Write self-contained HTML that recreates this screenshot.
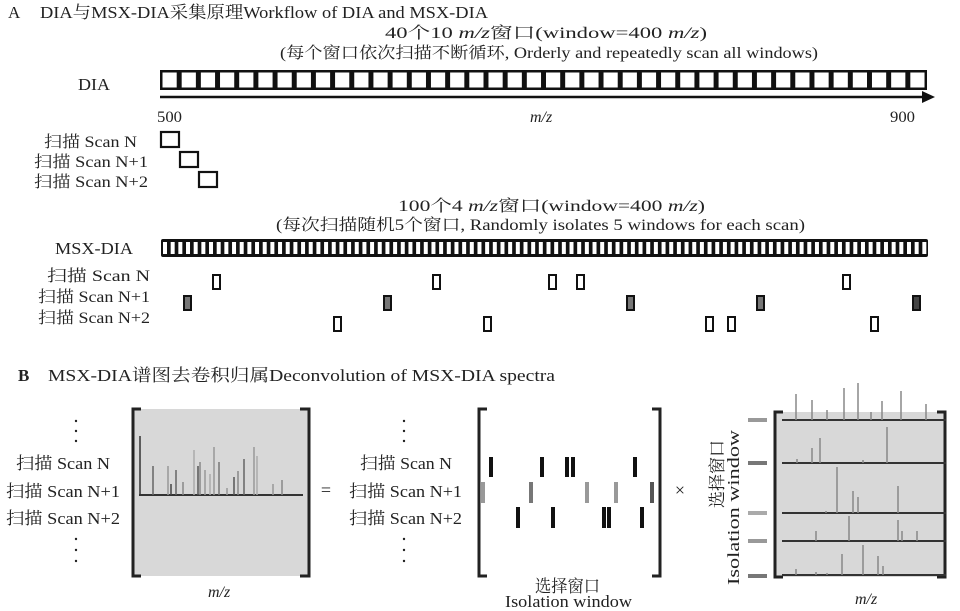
<!DOCTYPE html>
<html><head><meta charset="utf-8"><style>
body{margin:0;background:#fff}
svg{display:block}
text{font-family:"Liberation Serif","Noto Serif CJK SC",serif;fill:#222}
</style></head><body>
<svg width="960" height="611" viewBox="0 0 960 611" xmlns="http://www.w3.org/2000/svg">
<text x="8" y="18" font-size="17">A</text>
<text x="40" y="18" font-size="17" textLength="448" lengthAdjust="spacingAndGlyphs">DIA与MSX-DIA采集原理Workflow of DIA and MSX-DIA</text>
<text x="385" y="38" font-size="16" textLength="322" lengthAdjust="spacingAndGlyphs">40个10 <tspan font-style="italic">m/z</tspan>窗口(window=400 <tspan font-style="italic">m/z</tspan>)</text>
<text x="280" y="58" font-size="16" textLength="538" lengthAdjust="spacingAndGlyphs">(每个窗口依次扫描不断循环, Orderly and repeatedly scan all windows)</text>
<text x="78" y="90" font-size="17" textLength="32" lengthAdjust="spacingAndGlyphs">DIA</text>
<g id="dia"></g>
<line x1="160" y1="97" x2="925" y2="97" stroke="#111" stroke-width="2.5"/>
<polygon points="935,97 922,91 922,103" fill="#111"/>
<text x="157" y="122" font-size="16" textLength="25" lengthAdjust="spacingAndGlyphs">500</text>
<text x="530" y="122" font-size="16" font-style="italic">m/z</text>
<text x="890" y="122" font-size="16" textLength="25" lengthAdjust="spacingAndGlyphs">900</text>
<g font-size="16">
<text x="44" y="147" textLength="93" lengthAdjust="spacingAndGlyphs">扫描 Scan N</text>
<text x="34" y="167" textLength="114" lengthAdjust="spacingAndGlyphs">扫描 Scan N+1</text>
<text x="34" y="187" textLength="114" lengthAdjust="spacingAndGlyphs">扫描 Scan N+2</text>
</g>
<g fill="none" stroke="#111" stroke-width="2.2">
<rect x="161" y="132" width="18" height="15"/>
<rect x="180" y="152" width="18" height="15"/>
<rect x="199" y="172" width="18" height="15"/>
</g>
<text x="398" y="211" font-size="16" textLength="307" lengthAdjust="spacingAndGlyphs">100个4 <tspan font-style="italic">m/z</tspan>窗口(window=400 <tspan font-style="italic">m/z</tspan>)</text>
<text x="276" y="230" font-size="16" textLength="529" lengthAdjust="spacingAndGlyphs">(每次扫描随机5个窗口, Randomly isolates 5 windows for each scan)</text>
<text x="55" y="254" font-size="17" textLength="78" lengthAdjust="spacingAndGlyphs">MSX-DIA</text>
<g id="msx"></g>
<g font-size="16">
<text x="47" y="281" textLength="103" lengthAdjust="spacingAndGlyphs">扫描 Scan N</text>
<text x="38" y="302" textLength="112" lengthAdjust="spacingAndGlyphs">扫描 Scan N+1</text>
<text x="38" y="323" textLength="112" lengthAdjust="spacingAndGlyphs">扫描 Scan N+2</text>
</g>
<g stroke="#111" stroke-width="2" fill="none">
<rect x="213" y="275" width="7" height="14"/><rect x="433" y="275" width="7" height="14"/><rect x="549" y="275" width="7" height="14"/><rect x="577" y="275" width="7" height="14"/><rect x="843" y="275" width="7" height="14"/>
<rect x="334" y="317" width="7" height="14"/><rect x="484" y="317" width="7" height="14"/><rect x="706" y="317" width="7" height="14"/><rect x="728" y="317" width="7" height="14"/><rect x="871" y="317" width="7" height="14"/>
</g>
<g stroke="#111" stroke-width="2" fill="#777">
<rect x="184" y="296" width="7" height="14"/><rect x="384" y="296" width="7" height="14"/><rect x="627" y="296" width="7" height="14"/><rect x="757" y="296" width="7" height="14"/><rect x="913" y="296" width="7" height="14" fill="#444"/>
</g>

<text x="18" y="381" font-size="17" font-weight="bold">B</text>
<text x="48" y="381" font-size="17" textLength="507" lengthAdjust="spacingAndGlyphs">MSX-DIA谱图去卷积归属Deconvolution of MSX-DIA spectra</text>
<!-- left -->
<g fill="#222"><circle cx="76" cy="421" r="1.2"/><circle cx="76" cy="431" r="1.2"/><circle cx="76" cy="441" r="1.2"/><circle cx="76" cy="539" r="1.2"/><circle cx="76" cy="550" r="1.2"/><circle cx="76" cy="561" r="1.2"/></g>
<g font-size="17">
<text x="16" y="469" textLength="94" lengthAdjust="spacingAndGlyphs">扫描 Scan N</text><text x="6" y="497" textLength="114" lengthAdjust="spacingAndGlyphs">扫描 Scan N+1</text><text x="6" y="524" textLength="114" lengthAdjust="spacingAndGlyphs">扫描 Scan N+2</text></g>
<rect x="133" y="409" width="176" height="167" fill="#d8d8d8"/>
<path d="M141,409 H133 V576 H141 M300,409 H309 V576 H300" fill="none" stroke="#222" stroke-width="3"/>
<line x1="140" y1="436" x2="140" y2="495" stroke="#333" stroke-width="1.5"/>
<line x1="139" y1="495" x2="303" y2="495" stroke="#333" stroke-width="2"/>
<g stroke-width="1.5" id="lp"></g>
<text x="208" y="597" font-size="16" font-style="italic">m/z</text>
<text x="326" y="496" font-size="18" text-anchor="middle">=</text>
<!-- middle -->
<g fill="#222"><circle cx="404" cy="421" r="1.2"/><circle cx="404" cy="431" r="1.2"/><circle cx="404" cy="441" r="1.2"/><circle cx="404" cy="539" r="1.2"/><circle cx="404" cy="550" r="1.2"/><circle cx="404" cy="561" r="1.2"/></g>
<g font-size="17">
<text x="360" y="469" textLength="92" lengthAdjust="spacingAndGlyphs">扫描 Scan N</text><text x="349" y="497" textLength="113" lengthAdjust="spacingAndGlyphs">扫描 Scan N+1</text><text x="349" y="524" textLength="113" lengthAdjust="spacingAndGlyphs">扫描 Scan N+2</text></g>
<path d="M487,409 H479 V576 H487 M652,409 H660 V576 H652" fill="none" stroke="#222" stroke-width="3"/>
<g fill="#111">
<rect x="489" y="457" width="4" height="20"/><rect x="540" y="457" width="4" height="20"/><rect x="565" y="457" width="4" height="20"/><rect x="571" y="457" width="4" height="20"/><rect x="633" y="457" width="4" height="20"/>
<rect x="516" y="507" width="4" height="21"/><rect x="551" y="507" width="4" height="21"/><rect x="602" y="507" width="4" height="21"/><rect x="607" y="507" width="4" height="21"/><rect x="640" y="507" width="4" height="21"/>
</g>
<g fill="#999"><rect x="481" y="482" width="4" height="21"/><rect x="529" y="482" width="4" height="21" fill="#777"/><rect x="585" y="482" width="4" height="21"/><rect x="614" y="482" width="4" height="21"/><rect x="650" y="482" width="4" height="21" fill="#555"/></g>
<text x="535" y="592" font-size="17" textLength="65" lengthAdjust="spacingAndGlyphs">选择窗口</text>
<text x="505" y="607" font-size="17" textLength="127" lengthAdjust="spacingAndGlyphs">Isolation window</text>
<text x="680" y="496" font-size="18" text-anchor="middle">×</text>
<!-- right -->
<g transform="translate(727,508) rotate(-90)" font-size="17"><text x="0" y="-4" textLength="68" lengthAdjust="spacingAndGlyphs">选择窗口</text><text x="-77" y="12" textLength="155" lengthAdjust="spacingAndGlyphs">Isolation window</text></g>
<g stroke-width="4"><line x1="748" y1="420" x2="767" y2="420" stroke="#999"/><line x1="748" y1="463" x2="767" y2="463" stroke="#777"/><line x1="748" y1="513" x2="767" y2="513" stroke="#aaa"/><line x1="748" y1="541" x2="767" y2="541" stroke="#999"/><line x1="748" y1="576" x2="767" y2="576" stroke="#777"/></g>
<rect x="775" y="412" width="170" height="165" fill="#d8d8d8"/>
<path d="M783,412 H775 V577 H783 M937,412 H945 V577 H937" fill="none" stroke="#222" stroke-width="3"/>
<g stroke="#333" stroke-width="2"><line x1="782" y1="420" x2="946" y2="420"/><line x1="782" y1="463" x2="946" y2="463"/><line x1="782" y1="513" x2="946" y2="513"/><line x1="782" y1="541" x2="946" y2="541"/><line x1="782" y1="575" x2="946" y2="575"/></g>
<g stroke="#888" stroke-width="1.5" id="rp"></g>
<text x="855" y="604" font-size="16" font-style="italic">m/z</text>
</svg>
<script>
var ns="http://www.w3.org/2000/svg";
function el(p,t,a){var e=document.createElementNS(ns,t);for(var k in a)e.setAttribute(k,a[k]);p.appendChild(e);return e;}
var d=document.getElementById('dia');
el(d,'rect',{x:160,y:70,width:767,height:20,fill:'#111'});
for(var i=0;i<40;i++)el(d,'rect',{x:160+i*19.175+2.5,y:72.5,width:14.2,height:15,fill:'#fff'});
var m=document.getElementById('msx');
el(m,'rect',{x:161,y:239,width:767,height:18,fill:'#111',rx:2});
for(var i=0;i<100;i++)el(m,'rect',{x:161+i*7.67+2,y:242,width:4,height:12,fill:'#fff'});
var lp=document.getElementById('lp');
[[153,466,'#666'],[168,466,'#999'],[171,484,'#444'],[176,470,'#666'],[183,482,'#888'],[194,450,'#aaa'],[198,466,'#555'],[200,462,'#888'],[205,470,'#999'],[210,474,'#aaa'],[214,447,'#999'],[219,462,'#777'],[227,488,'#999'],[234,477,'#555'],[238,471,'#888'],[244,459,'#666'],[254,447,'#999'],[257,456,'#aaa'],[273,484,'#999'],[282,480,'#888']].forEach(function(p){el(lp,'line',{x1:p[0],y1:495,x2:p[0],y2:p[1],stroke:p[2]});});
var rp=document.getElementById('rp');
[[796,420,394],[812,420,400],[827,420,410],[844,420,388],[858,420,383],[871,420,412],[882,420,401],[901,420,391],[926,420,404],
[797,463,459],[812,463,448],[820,463,438],[863,463,460],[887,463,427],
[826,513,511],[837,513,467],[853,513,491],[858,513,497],[898,513,486],
[816,541,531],[849,541,516],[898,541,520],[902,541,531],[917,541,531],
[796,575,569],[816,575,572],[827,575,573],[842,575,554],[863,575,545],[878,575,556],[883,575,566]].forEach(function(p){el(rp,'line',{x1:p[0],y1:p[1],x2:p[0],y2:p[2]});});
</script>
</body></html>
